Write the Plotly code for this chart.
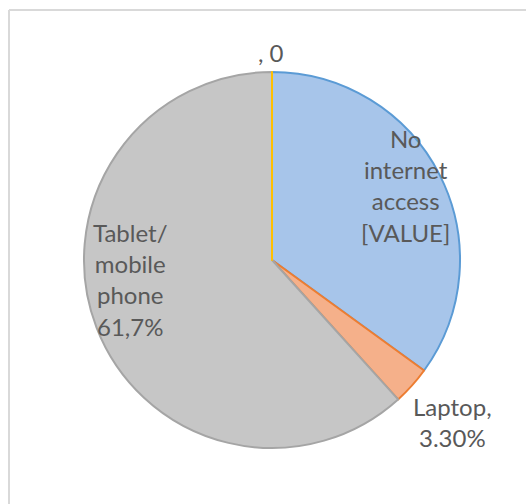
import plotly.graph_objects as go

# Data
categories = ["No internet access", "Laptop", "Tablet/mobile phone", ""]
values = [35.0, 3.3, 61.7, 0]
label_texts = ["No<br>internet<br>access<br>[VALUE]", "Laptop,<br>3.30%", "Tablet/<br>mobile<br>phone<br>61,7%", ", 0"]

fill_colors = ["#A7C5EA", "#F5B08A", "#C6C6C6", "#FFC000"]
line_colors = ["#5B9BD5", "#ED7D31", "#A5A5A5", "#FFC000"]

W, H = 526, 504
cx, cy, R = 272, 260, 188

# label positions in pixels (text placement, page coords)
label_px = [(405, 185), (452, 422), (130, 279), (271, 53)]

fig = go.Figure()
fig.add_trace(go.Pie(
    labels=categories,
    values=values,
    sort=False,
    direction="clockwise",
    rotation=0,
    textinfo="none",
    hoverinfo="label+value",
    showlegend=False,
    marker=dict(colors=fill_colors, line=dict(color=line_colors, width=2)),
    domain=dict(x=[(cx - R) / W, (cx + R) / W], y=[1 - (cy + R) / H, 1 - (cy - R) / H]),
))

for txt, (px, py) in zip(label_texts, label_px):
    fig.add_annotation(
        x=px / W, y=1 - py / H, xref="paper", yref="paper",
        text=txt, showarrow=False, align="center",
        font=dict(family="Lato", size=24, color="#595959"),
        xanchor="center", yanchor="middle",
    )

# chart frame (only the top and left edges fall inside the picture)
fig.add_shape(type="line", xref="paper", yref="paper",
              x0=9 / W, x1=1.0, y0=1 - 10 / H, y1=1 - 10 / H,
              line=dict(color="#D9D9D9", width=2))
fig.add_shape(type="line", xref="paper", yref="paper",
              x0=9 / W, x1=9 / W, y0=0.0, y1=1 - 10 / H,
              line=dict(color="#D9D9D9", width=2))

fig.update_layout(
    width=W, height=H,
    margin=dict(l=0, r=0, t=0, b=0),
    paper_bgcolor="white",
    plot_bgcolor="white",
)

fig.write_html(
    "out.html",
    config={"displayModeBar": False},
    post_script="document.body.style.margin='0';document.body.style.overflow='hidden';",
)
